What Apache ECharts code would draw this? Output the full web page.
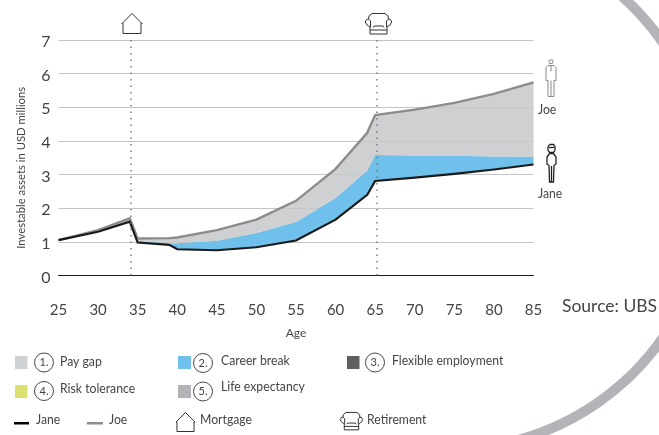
<!DOCTYPE html>
<html><head><meta charset="utf-8">
<style>html,body{margin:0;padding:0;background:#fff}#c{width:659px;height:435px}</style>
<script src="https://cdn.jsdelivr.net/npm/echarts@6/dist/echarts.min.js"></script>
</head><body><div id="c"></div>
<script>
const ages      = [25,   30,   34,   35,   39,   40,   45,   50,   55,   60,   64,   65,   70,   75,   80,   85];
const jane      = [1.05, 1.30, 1.60, 0.98, 0.91, 0.78, 0.75, 0.84, 1.04, 1.66, 2.40, 2.81, 2.91, 3.02, 3.15, 3.30];
const careerTop = [1.05, 1.30, 1.60, 1.03, 0.95, 0.96, 1.03, 1.26, 1.59, 2.30, 3.12, 3.58, 3.57, 3.56, 3.54, 3.53];
const joe       = [1.05, 1.35, 1.70, 1.10, 1.11, 1.13, 1.35, 1.66, 2.22, 3.17, 4.24, 4.77, 4.93, 5.13, 5.40, 5.74];
const eventAges = [34.1, 65.15];
const xTicks = {min:25, max:85, interval:5};
const yTicks = {min:0, max:7, interval:1};
const FONT = 'Lato,"Noto Sans",sans-serif';
const TXT = '#444444';
const LEG = 13;

const pairs = a => a.map((v,i)=>[ages[i],v]);

const t = (x,y,text,size,extra,sx) => ({type:'text',x,y,scaleX:sx||1,silent:true,z:50,style:Object.assign({text,fill:TXT,font:`${size||13}px ${FONT}`,verticalAlign:'middle'},extra||{})});
const lt = (x,y,text) => t(x,y,text,LEG,null,0.94);
const rect = (x,y,w,h,fill) => ({type:'rect',silent:true,z:50,shape:{x,y,width:w,height:h},style:{fill}});
const ring = (cx,cy,label) => ([
  {type:'circle',silent:true,z:50,shape:{cx,cy,r:9.5},style:{fill:'#fff',stroke:'#333',lineWidth:0.9}},
  t(cx,cy,label,11,{align:'center'})
]);
const outline = (lists,x,y,s,stroke,lw,fill) => lists.map((pts,i)=>({type:'polyline',silent:true,z:50,
  shape:{points:pts.map(p=>[x+p[0]*s,y+p[1]*s])},
  style:{fill:i===0&&fill?fill:'none',stroke,lineWidth:lw}}));
const HOUSE = [[[1,10],[1,20],[19,20],[19,10],[20,10],[10,0],[0,10],[1,10]]];
const SOFA = [
  [[5,21],[5,14],[2,12],[0.3,9],[1.5,6.5],[3.5,6],[4,3],[7,0.5],[20,0.5],[23,3],[23.5,6],[25.5,6.5],[26.7,9],[25,12],[22,14],[22,21],[5,21]],
  [[3.5,6],[5.5,8],[5.5,14]],
  [[23.5,6],[21.5,8],[21.5,14]],
  [[8,14.5],[9,13],[18,13],[19,14.5]],
  [[5,17],[22,17]]
];
const MAN = [
  [[4,0.5],[7,0.5],[7.5,2],[7,4],[4,4],[3.5,2],[4,0.5]],
  [[2.5,6],[8.5,6],[10.5,8],[10.5,21],[8.5,21],[8.5,37],[2.5,37],[2.5,21],[0.5,21],[0.5,8],[2.5,6]],
  [[5.5,21],[5.5,37]],
  [[5.5,6],[5.5,12]]
];
const WOMAN = [
  [[3.5,0.5],[7.5,0.5],[9,3],[9,6],[7.5,8.5],[3.5,8.5],[2,6],[2,3],[3.5,0.5]],
  [[3,3.5],[8,3.5]],
  [[3.5,9.5],[7.5,9.5],[10,13],[10,20],[8,21.5],[7.5,38],[3.5,38],[3,21.5],[1,20],[1,13],[3.5,9.5]],
  [[5.5,22],[5.5,38]]
];
const ARC = {type:'arc',silent:true,z:0,style:{fill:'none',stroke:'#b3b4b7',lineWidth:10}};
const bgArc = (a,b) => Object.assign({},ARC,{shape:{cx:450,cy:190,r:259,startAngle:a*Math.PI/180,endAngle:b*Math.PI/180,clockwise:true}});

const graphics = [
  bgArc(-60,-25), bgArc(25,85),
  ...outline(HOUSE,122,13.5,1,'#333',1,'#fff'), ...outline(SOFA,365,13,1,'#333',1,'#fff'),
  ...outline(MAN,545.5,59.5,1,'#888a8c',1), ...outline(WOMAN,546,144,1,'#222',1.3),
  lt(538,110,'Joe'), lt(538,194,'Jane'),
  t(562,306,'Source: UBS',17.5),
  rect(15,356,12.5,13,'#d0d1d3'), ...ring(44,362.5,'1.'), lt(60,362,'Pay gap'),
  rect(178,356,13,13,'#6fc0ea'), ...ring(203,363,'2.'), lt(221,361,'Career break'),
  rect(347,356,12.5,13,'#5f5f60'), ...ring(375,362.5,'3.'), lt(392,361,'Flexible employment'),
  rect(15,385,12.5,13,'#dbe06e'), ...ring(44,391,'4.'), lt(60,389,'Risk tolerance'),
  rect(178,385,13,13,'#b3b4b7'), ...ring(203,391.5,'5.'), lt(221,387,'Life expectancy'),
  rect(14,422,15,2.5,'#000'), lt(36,420,'Jane'),
  rect(87,422,16,2.5,'#8c8c8e'), lt(109,420,'Joe'),
  ...outline(HOUSE,176,412.5,0.95,'#333',1,'#fff'), lt(200,420,'Mortgage'),
  ...outline(SOFA,340,412,0.85,'#333',1,'#fff'), lt(367,420,'Retirement')
];

// one filled polygon between a lower and an upper curve, placed through the axes
const band = (name,lower,upper,fill,opacity) => ({
  type:'custom',name,silent:true,z:2,coordinateSystem:'cartesian2d',
  data:ages.map((a,i)=>[a,lower[i],upper[i]]),
  encode:{x:0,y:[1,2]},
  renderItem:(params,api)=>{
    if(params.dataIndex!==0) return null;
    const top=upper.map((v,i)=>api.coord([ages[i],v]));
    const bot=lower.map((v,i)=>api.coord([ages[i],v])).reverse();
    return {type:'polygon',shape:{points:top.concat(bot)},style:{fill,opacity}};
  }
});

const chart = echarts.init(document.getElementById('c'),null,{renderer:'canvas'});
chart.setOption({
  animation:false,
  backgroundColor:'#fff',
  textStyle:{fontFamily:FONT},
  graphic:graphics,
  grid:{left:58.5,right:125.5,top:40,bottom:159.5,containLabel:false},
  xAxis:{type:'value',min:xTicks.min,max:xTicks.max,interval:xTicks.interval,
    name:'Age',nameLocation:'middle',nameGap:52,nameTextStyle:{fontSize:12,color:TXT,fontFamily:FONT},
    axisLine:{show:true,onZero:true,lineStyle:{color:'#1a1a1a',width:1}},axisTick:{show:false},splitLine:{show:false},
    axisLabel:{fontSize:15,color:TXT,margin:27,fontFamily:FONT,showMinLabel:true,showMaxLabel:true}},
  yAxis:{type:'value',min:yTicks.min,max:yTicks.max,interval:yTicks.interval,
    name:'Investable assets in USD millions',nameLocation:'middle',nameGap:32,nameRotate:90,
    nameTextStyle:{fontSize:11.3,color:TXT,fontFamily:FONT,padding:[0,20,0,0]},
    axisLine:{show:false},axisTick:{show:false},
    splitLine:{show:true,lineStyle:{color:'#c4c4c4',width:1}},
    axisLabel:{fontSize:16,color:TXT,margin:8,fontFamily:FONT,verticalAlign:'top',lineHeight:4}},
  series:[
    band('Career break',jane,careerTop,'#6fc0ea',1),
    band('Pay gap',careerTop,joe,'#c6c8ca',0.85),
    {type:'line',name:'Joe',data:pairs(joe),symbol:'none',silent:true,lineStyle:{color:'#8c8c8e',width:2.4,join:'miter'},z:3},
    {type:'line',name:'Jane',data:pairs(jane),symbol:'none',silent:true,lineStyle:{color:'#1a1a1a',width:2.2,join:'miter'},z:4,
      markLine:{silent:true,symbol:'none',animation:false,label:{show:false},
        lineStyle:{color:'#77797b',type:[1.5,5],width:1.5},
        data:eventAges.map(a=>({xAxis:a}))}}
  ]
});
</script></body></html>
